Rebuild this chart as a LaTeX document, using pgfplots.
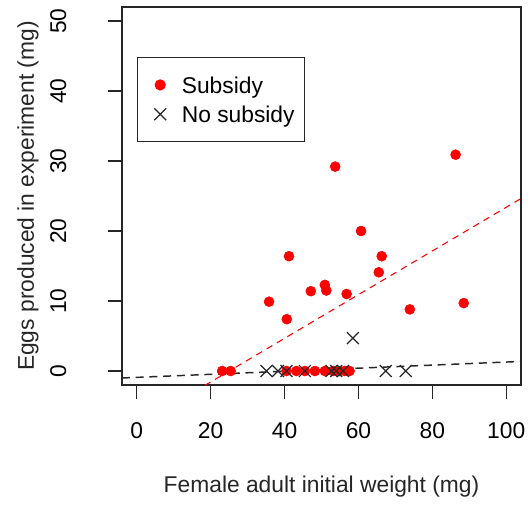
\documentclass[border=0pt]{standalone}
\usepackage{fontspec}
\setmainfont{Liberation Sans}
\usepackage{pgfplots}
\pgfplotsset{compat=1.18}

\newcommand{\chartfont}{\fontsize{17.1pt}{20.5pt}\selectfont}
\definecolor{axisgray}{gray}{0.15}

\begin{document}
\begin{tikzpicture}[font=\chartfont]
\begin{axis}[
  at={(0pt,0pt)}, anchor=south west,
  scale only axis, width=299.25pt, height=283.5pt,
  xmin=-4, xmax=104, ymin=-2, ymax=52,
  xtick={0,20,40,60,80,100}, ytick={0,10,20,30,40,50},
  /pgf/number format/assume math mode=true,
  tick align=outside, tick pos=left, major tick length=10.5pt,
  axis line style={axisgray, line width=1pt},
  every tick/.style={axisgray, line width=1pt},
  tick label style={font=\chartfont, text=black, inner sep=0pt},
  xticklabel style={anchor=north},
  yticklabel style={rotate=90, anchor=south},
  xticklabel shift=17.25pt, yticklabel shift=31pt,
  label style={font=\chartfont, text=black!85},
  xlabel={Female adult initial weight (mg)},
  ylabel={Eggs produced in experiment (mg)},
  xlabel style={at={(axis description cs:0.5,-0.2685)}, anchor=center},
  ylabel style={at={(axis description cs:-0.2356,0.5)}, anchor=center},
  legend style={at={(axis description cs:0.0376,0.8677)}, anchor=north west,
    draw=axisgray, line width=0.9pt, inner xsep=0pt, inner ysep=9.5pt,
    row sep=0pt, font=\chartfont,
    nodes={inner sep=0pt, text height=17.5pt, text depth=4.5pt}},
  legend cell align=left,
  legend image code/.code={%
    \path (0pt,0pt) (32.25pt,0pt);
    \draw[#1] plot coordinates {(16.5pt,0pt)};},
]
% females that received the subsidy
\addplot[only marks, mark=*, mark size=3.75pt, color=red, draw=red, fill=red] table {
x y
86.3 30.9
53.7 29.2
60.7 20.0
41.2 16.4
66.3 16.4
65.5 14.1
47.1 11.4
50.9 12.3
51.3 11.5
56.8 11.0
35.8 9.9
40.6 7.4
73.9 8.8
88.5 9.7
23.1 0
25.4 0
40.5 0
43.2 0
45.5 0
48.2 0
50.9 0
53.1 0
54.9 0
56.3 0
57.6 0
};
\addlegendentry{\makebox[92.25pt][l]{Subsidy}}
% females without the subsidy
\addplot[only marks, mark=x, mark size=6.3pt, color=axisgray, line width=0.9pt] table {
x y
35.1 0
38.2 0
40.5 0
45.5 0
52.7 0
54.0 0
55.8 0
58.5 4.7
67.4 0
72.8 0
};
\addlegendentry{\makebox[92.25pt][l]{No subsidy}}
% fitted regression lines
\addplot[forget plot, red, line width=0.8pt, dash pattern=on 5pt off 4pt] coordinates {(-4,-9.058) (104,24.638)};
\addplot[forget plot, axisgray, line width=1.1pt, dash pattern=on 6pt off 4.3pt] coordinates {(-4,-0.998) (104,1.368)};
\end{axis}
\pgfresetboundingbox
\path (-91.5pt,-90.75pt) rectangle (306pt,288.75pt);
\end{tikzpicture}
\end{document}
